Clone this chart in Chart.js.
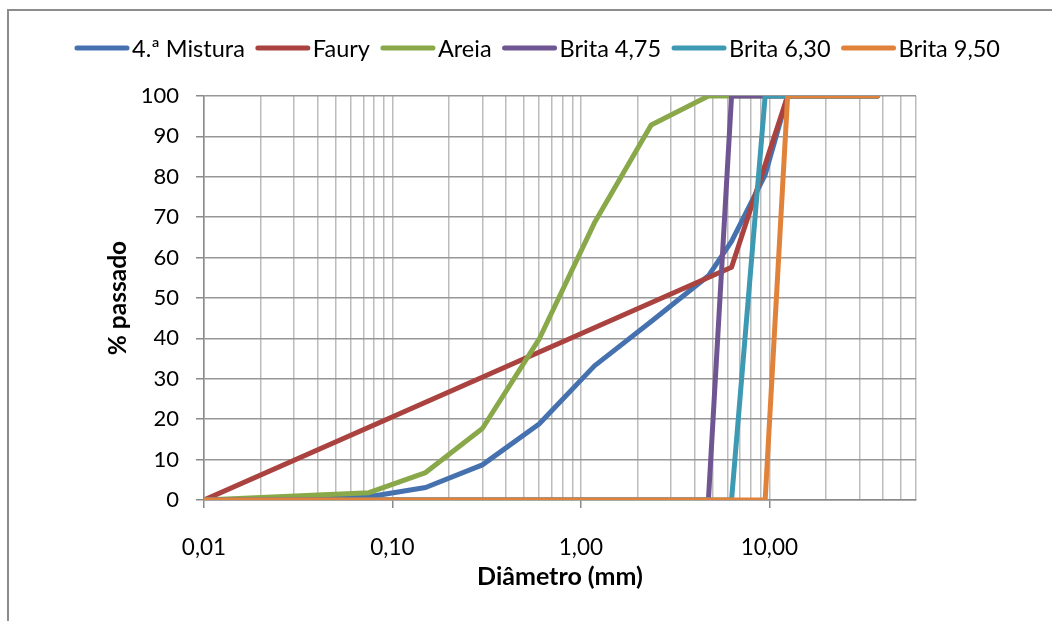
<!DOCTYPE html>
<html>
<head>
<meta charset="utf-8">
<script src="https://cdn.jsdelivr.net/npm/chart.js@4.4.1/dist/chart.umd.min.js"></script>
<style>
  html, body { margin: 0; padding: 0; background: #fff; }
  #wrap { position: relative; width: 1052px; height: 621px; overflow: hidden; }
  #frame { position: absolute; left: 7px; top: 9px; width: 1100px; height: 700px;
           border-top: 2px solid #8c8c8c; border-left: 2px solid #8c8c8c; }
  canvas { position: absolute; left: 0; top: 0; }
</style>
</head>
<body>
<div id="wrap">
  <div id="frame"></div>
  <canvas id="c" width="1052" height="621"></canvas>
</div>
<script>
// Sieve openings (mm); 0.01 stands for the pan
const sieveSizes = [0.01, 0.075, 0.15, 0.3, 0.6, 1.18, 2.36, 4.75, 6.3, 9.5, 12.5, 19, 25, 37.5];

// Cumulative % passing for each material
const mistura4  = [0, 0.8, 3.1, 8.7, 18.8, 33.2, 44.2, 55.5, 64, 80.5, 100, 100, 100, 100];
const areia     = [0, 1.8, 6.8, 17.7, 39.8, 68.6, 92.8, 100, 100, 100, 100, 100, 100, 100];
const brita475  = [0, 0, 0, 0, 0, 0, 0, 0, 100, 100, 100, 100, 100, 100];
const brita630  = [0, 0, 0, 0, 0, 0, 0, 0, 0, 100, 100, 100, 100, 100];
const brita950  = [0, 0, 0, 0, 0, 0, 0, 0, 0, 0, 100, 100, 100, 100];

// Faury reference curve
const fauryX = [0.01, 6.3, 12.5];
const fauryY = [0, 57.6, 100];

// Axis settings
const xMin = 0.01, xMax = 60;
const yTicks = [0, 10, 20, 30, 40, 50, 60, 70, 80, 90, 100];

const seriesNames  = ['4.ª Mistura', 'Faury', 'Areia', 'Brita 4,75', 'Brita 6,30', 'Brita 9,50'];
const seriesColors = ['#4572ae', '#aa433f', '#89a84a', '#6f5592', '#3e9ab3', '#e1823a'];

const toPoints = (xs, ys) => xs.map((x, i) => ({ x: x, y: ys[i] }));
const seriesData = [
  toPoints(sieveSizes, mistura4),
  toPoints(fauryX, fauryY),
  toPoints(sieveSizes, areia),
  toPoints(sieveSizes, brita475),
  toPoints(sieveSizes, brita630),
  toPoints(sieveSizes, brita950)
];

const FONT = 'Lato, "Open Sans", sans-serif';

// Legend drawn across the top: a short thick line followed by the label
const lineLegend = {
  id: 'lineLegend',
  afterDraw(chart) {
    const ctx = chart.ctx;
    const sets = chart.data.datasets;
    const lineLen = 56, gapText = 2, gapItem = 10, y = 48;
    ctx.save();
    ctx.font = '23.5px ' + FONT;
    const widths = sets.map(d => ctx.measureText(d.label).width);
    let total = 0;
    widths.forEach(w => { total += lineLen + gapText + w; });
    total += gapItem * (sets.length - 1);
    let x = 537 - total / 2;
    sets.forEach((d, i) => {
      ctx.strokeStyle = d.borderColor;
      ctx.lineWidth = 5;
      ctx.lineCap = 'round';
      ctx.beginPath();
      ctx.moveTo(x + 3, y);
      ctx.lineTo(x + lineLen - 3, y);
      ctx.stroke();
      x += lineLen + gapText;
      ctx.fillStyle = '#000';
      ctx.textBaseline = 'middle';
      ctx.textAlign = 'left';
      ctx.fillText(d.label, x, y + 1);
      x += widths[i] + gapItem;
    });
    ctx.restore();
  }
};

const isDecade = v => Math.abs(Math.log10(v) - Math.round(Math.log10(v))) < 1e-9;

new Chart(document.getElementById('c'), {
  type: 'line',
  data: {
    datasets: seriesNames.map((name, i) => ({
      label: name,
      data: seriesData[i],
      borderColor: seriesColors[i],
      backgroundColor: seriesColors[i],
      borderWidth: 5,
      borderJoinStyle: 'round',
      borderCapStyle: 'round',
      pointRadius: 0,
      tension: 0,
      fill: false,
      order: seriesNames.length - i
    }))
  },
  options: {
    responsive: false,
    animation: false,
    layout: { padding: { left: 100, right: 136, top: 96, bottom: 27 } },
    plugins: {
      legend: { display: false },
      tooltip: { enabled: false }
    },
    scales: {
      x: {
        type: 'logarithmic',
        min: xMin,
        max: xMax,
        afterBuildTicks(scale) {
          const ticks = [];
          for (let e = -2; e <= 1; e++) {
            for (let m = 1; m <= 9; m++) {
              const v = parseFloat((m * Math.pow(10, e)).toPrecision(6));
              if (v >= xMin - 1e-12 && v <= xMax + 1e-9) ticks.push({ value: v });
            }
          }
          scale.ticks = ticks;
        },
        afterFit(scale) { scale.height = 94; },
        ticks: {
          autoSkip: false,
          maxRotation: 0,
          padding: 26,
          color: '#000',
          font: { family: FONT, size: 22.5 },
          callback: v => isDecade(v) ? v.toFixed(2).replace('.', ',') : ''
        },
        grid: {
          color: '#bcbcbc',
          lineWidth: 1.5,
          tickLength: 8,
          tickColor: ctx => (ctx.tick && isDecade(ctx.tick.value)) ? '#8a8a8a' : 'rgba(0,0,0,0)'
        },
        border: { color: '#8a8a8a', width: 1.5 },
        title: {
          display: true,
          text: 'Diâmetro (mm)',
          color: '#000',
          font: { family: FONT, size: 25, weight: 'bold' },
          padding: { top: 0, bottom: 2 }
        }
      },
      y: {
        min: 0,
        max: 100,
        afterBuildTicks(scale) { scale.ticks = yTicks.map(v => ({ value: v })); },
        afterFit(scale) { scale.width = 104; },
        ticks: {
          padding: 17,
          color: '#000',
          font: { family: FONT, size: 22 }
        },
        grid: {
          color: '#979797',
          lineWidth: 1.5,
          tickLength: 8,
          tickColor: '#8a8a8a'
        },
        border: { color: '#8a8a8a', width: 1.5 },
        title: {
          display: true,
          text: '% passado',
          color: '#000',
          font: { family: FONT, size: 24.5, weight: 'bold' },
          padding: { top: 3, bottom: 0 }
        }
      }
    }
  },
  plugins: [lineLegend]
});
</script>
</body>
</html>
